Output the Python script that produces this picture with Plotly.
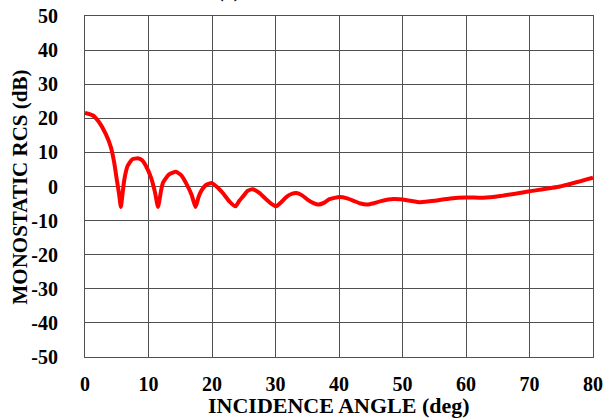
import plotly.graph_objects as go

angle_deg = [0, 1.2, 2.2, 3.3, 4.1, 4.6, 5.0, 5.35, 5.65, 5.95, 6.2, 6.7, 7.4, 8.3, 9.0,
             9.6, 10.4, 11.0, 11.5, 12.0, 12.3, 13.2, 14.3, 15.2, 16.0, 16.8, 17.4,
             17.9, 18.4, 19.1, 20.0, 21.0, 21.7, 22.8, 23.7, 24.3, 24.9, 25.6, 26.4,
             27.4, 28.5, 29.3, 30.1, 30.9, 31.7, 32.5, 33.3, 34.2, 35.1, 36.0, 36.8,
             37.6, 38.5, 40.1, 41.3, 42.3, 43.4, 44.4, 45.5, 46.6, 48.6, 50.7, 52.8,
             55, 57.5, 60, 62.7, 65.4, 70, 74.8, 80]
rcs_db = [21.6, 20.9, 18.9, 15.3, 11.4, 7.0, 2.1, -2.0, -6.0, -1.5, 2.1, 6.0, 7.9, 8.3,
          7.7, 6.0, 2.6, -1.5, -6.0, -1.0, 1.2, 3.5, 4.3, 3.2, 0.7, -2.5, -6.0, -3.0,
          -1.0, 0.5, 1.0, -0.5, -1.9, -4.5, -5.8, -4.2, -2.9, -1.3, -0.8, -1.8, -3.7,
          -5.0, -5.8, -4.6, -3.1, -2.2, -1.9, -2.6, -3.9, -4.9, -5.3, -4.8, -3.7, -3.1,
          -3.5, -4.2, -5.0, -5.3, -4.9, -4.3, -3.7, -4.0, -4.6, -4.2, -3.5, -3.2, -3.3,
          -2.8, -1.4, 0.0, 2.6]

x_ticks = list(range(0, 81, 10))
y_ticks = list(range(-50, 51, 10))

font_family = "Liberation Serif, DejaVu Serif, serif"
grid_color = "#505050"

fig = go.Figure()
fig.add_trace(go.Scatter(
    x=angle_deg, y=rcs_db, mode="lines",
    line=dict(color="#ff0000", width=4, shape="spline", smoothing=0.5),
    showlegend=False,
))

fig.update_layout(
    width=606, height=418,
    margin=dict(l=85, r=13, t=16, b=61, autoexpand=False),
    paper_bgcolor="white", plot_bgcolor="white",
    font=dict(family=font_family, color="black"),
)
fig.update_xaxes(
    range=[0, 80], tickvals=x_ticks, ticktext=[f"<b>{v}</b>" for v in x_ticks],
    showgrid=True, gridcolor=grid_color, gridwidth=1,
    showline=True, linecolor=grid_color, linewidth=1, mirror=True,
    zeroline=False, ticks="", ticklabelstandoff=9, automargin=False,
    tickfont=dict(family=font_family, size=20, color="black"),
)
fig.update_yaxes(
    range=[-50, 50], tickvals=y_ticks, ticktext=[f"<b>{v}</b>" for v in y_ticks],
    showgrid=True, gridcolor=grid_color, gridwidth=1,
    showline=True, linecolor=grid_color, linewidth=1, mirror=True,
    zeroline=False, ticks="", ticklabelstandoff=22, automargin=False,
    tickfont=dict(family=font_family, size=20, color="black"),
)
fig.add_annotation(
    text="<b>INCIDENCE ANGLE (deg)</b>", xref="paper", yref="paper",
    x=0.5, y=-0.142, xanchor="center", yanchor="middle", showarrow=False,
    font=dict(family=font_family, size=22, color="black"),
)
fig.add_annotation(
    text="<b>MONOSTATIC RCS (dB)</b>", xref="paper", yref="paper",
    x=-0.128, y=0.5, xanchor="center", yanchor="middle", showarrow=False,
    textangle=-90,
    font=dict(family=font_family, size=21, color="black"),
)
fig.add_annotation(
    text="<b>(a)</b>", xref="paper", yref="paper", x=0.2815, y=1.035,
    xanchor="center", yanchor="bottom", showarrow=False,
    font=dict(family=font_family, size=20, color="black"),
)

fig.write_html("out.html", post_script="document.body.style.margin='0';",
               config={"displayModeBar": False})
